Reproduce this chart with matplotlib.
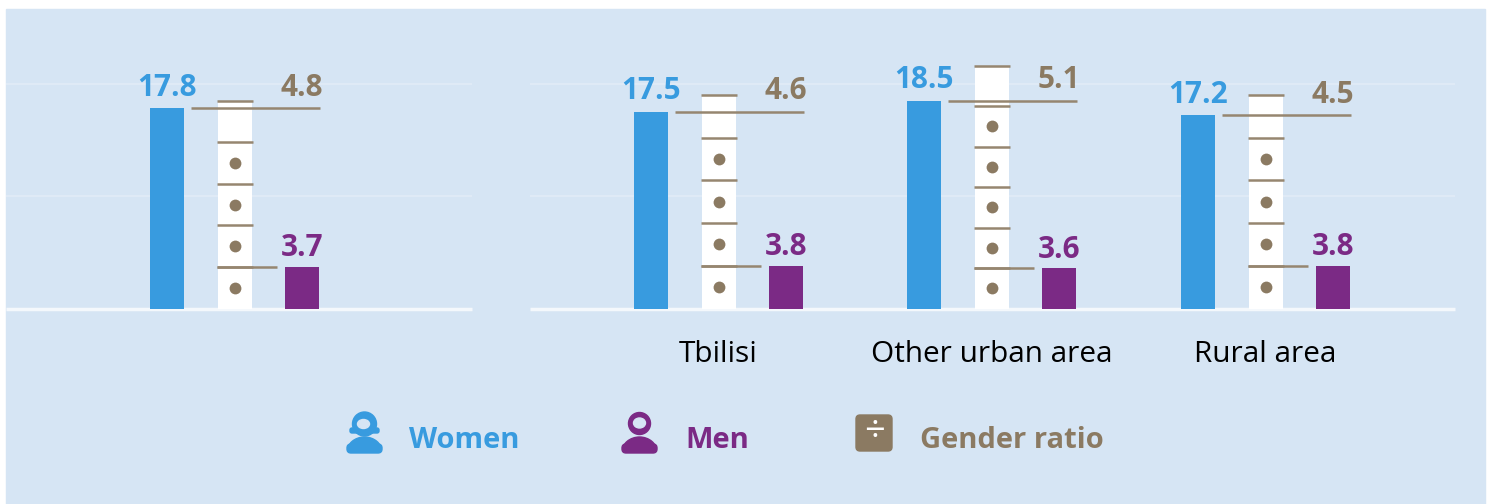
import numpy as np
import matplotlib
matplotlib.use('Agg')
import matplotlib.pyplot as plt
from matplotlib.patches import Rectangle, Circle, Ellipse, FancyBboxPatch

plt.rcParams['font.family'] = ['Open Sans', 'DejaVu Sans']

# Data
categories = ['', 'Tbilisi', 'Other urban area', 'Rural area']
women = [17.8, 17.5, 18.5, 17.2]
men = [3.7, 3.8, 3.6, 3.8]
ratio = [4.8, 4.6, 5.1, 4.5]
grid_values = [10, 20]
legend_labels = ['Women', 'Men', 'Gender ratio']

# Colours
BG = '#d6e5f4'
BLUE = '#389bdf'
PURPLE = '#7b2a85'
BROWN = '#8b7a62'
LINE = '#968670'

# Layout, in pixels of the 1493x504 picture
W, H = 1493, 504
base_y = 308.5
px_per_unit = 11.24
centres = [234.5, 718.5, 991.5, 1265.5]
pitch = 67.5
bar_w = 34


def add_body(ax, cx, color):
    # rounded shoulders: top half of an ellipse on a low rounded box
    top = Ellipse((cx, 452), 35, 30, color=color)
    ax.add_patch(top)
    top.set_clip_path(Rectangle((cx - 20, 430), 40, 18, transform=ax.transData))
    ax.add_patch(FancyBboxPatch((cx - 17.5, 444), 35, 9, boxstyle='round,pad=0,rounding_size=4', color=color))


fig = plt.figure(figsize=(W / 100, H / 100), dpi=100, facecolor='white')
fig.patches.append(Rectangle((6 / W, 0), 1479 / W, 495 / H, transform=fig.transFigure, color=BG, zorder=-5))

# bars use value units on y, x stays in pixels
ax = fig.add_axes([0, 0, 1, 1])
ax.set_xlim(0, W)
ax.set_ylim(-(H - base_y) / px_per_unit, base_y / px_per_unit)
ax.axis('off')
ax.patch.set_alpha(0)

for x0, x1 in [(6, 472), (530, 1455)]:
    ax.hlines(grid_values, x0, x1, color='#e2ecf7', linewidth=1.2, zorder=1)
    ax.hlines(0, x0, x1, color='#f4f8fc', linewidth=2.5, zorder=1)

for i, c in enumerate(centres):
    w, m, r = women[i], men[i], ratio[i]
    n_full = int(np.floor(r))
    n_all = int(np.ceil(r))
    ax.bar(c - pitch, w, width=bar_w, color=BLUE, zorder=3)
    ax.bar(c + pitch, m, width=bar_w, color=PURPLE, zorder=3)
    ax.bar(c, n_all * m, width=bar_w, color='white', zorder=2)

    # men-sized steps up the ratio column
    for k in range(1, n_all + 1):
        ax.hlines(k * m, c - 18, c + 18, color=LINE, linewidth=1.8, zorder=4)
    ax.plot([c] * n_full, (np.arange(n_full) + 0.5) * m, 'o', color=BROWN, markersize=8.5, markeredgewidth=0, zorder=4)

    # level lines for women and men
    ax.hlines(w, c - 44, c + 85, color=LINE, linewidth=1.8, zorder=4)
    ax.hlines(m, c - 18, c + 42, color=LINE, linewidth=1.8, zorder=4)

    ax.annotate('%.1f' % w, (c - pitch, w), xytext=(0, 4), textcoords='offset points', ha='center', va='bottom',
                color=BLUE, fontsize=21.4, fontweight='bold')
    ax.annotate('%.1f' % r, (c + pitch, w), xytext=(0, 4), textcoords='offset points', ha='center', va='bottom',
                color=BROWN, fontsize=21.4, fontweight='bold')
    ax.annotate('%.1f' % m, (c + pitch, m), xytext=(0, 2.5), textcoords='offset points', ha='center', va='bottom',
                color=PURPLE, fontsize=21.4, fontweight='bold')
    if categories[i]:
        ax.text(c, -4.1, categories[i], ha='center', va='center', color='black', fontsize=21.4)

# legend icons and labels, plain pixel coordinates
lg = fig.add_axes([0, 0, 1, 1])
lg.set_xlim(0, W)
lg.set_ylim(H, 0)
lg.axis('off')
lg.patch.set_alpha(0)

lg.add_patch(Ellipse((364.5, 424), 24, 24, color=BLUE))
lg.add_patch(FancyBboxPatch((350, 428), 29, 5, boxstyle='round,pad=0,rounding_size=2', color=BLUE))
lg.add_patch(Ellipse((363.5, 424), 12, 9, color=BG))
add_body(lg, 364.5, BLUE)
lg.text(409, 440, legend_labels[0], color=BLUE, fontsize=21, fontweight='bold', va='center', ha='left')

lg.add_patch(Circle((639.5, 423.5), 11, color=PURPLE))
lg.add_patch(Ellipse((639.5, 423), 12, 10, color=BG))
add_body(lg, 639.5, PURPLE)
lg.text(685, 440, legend_labels[1], color=PURPLE, fontsize=21, fontweight='bold', va='center', ha='left')

lg.add_patch(FancyBboxPatch((856, 415), 36, 36, boxstyle='round,pad=0,rounding_size=4', color=BROWN))
lg.text(874, 433, '\u00f7', color='white', fontsize=26, ha='center', va='center')
lg.text(920, 440, legend_labels[2], color=BROWN, fontsize=21, fontweight='bold', va='center', ha='left')

fig.savefig('out.png', dpi=100, facecolor='white')
